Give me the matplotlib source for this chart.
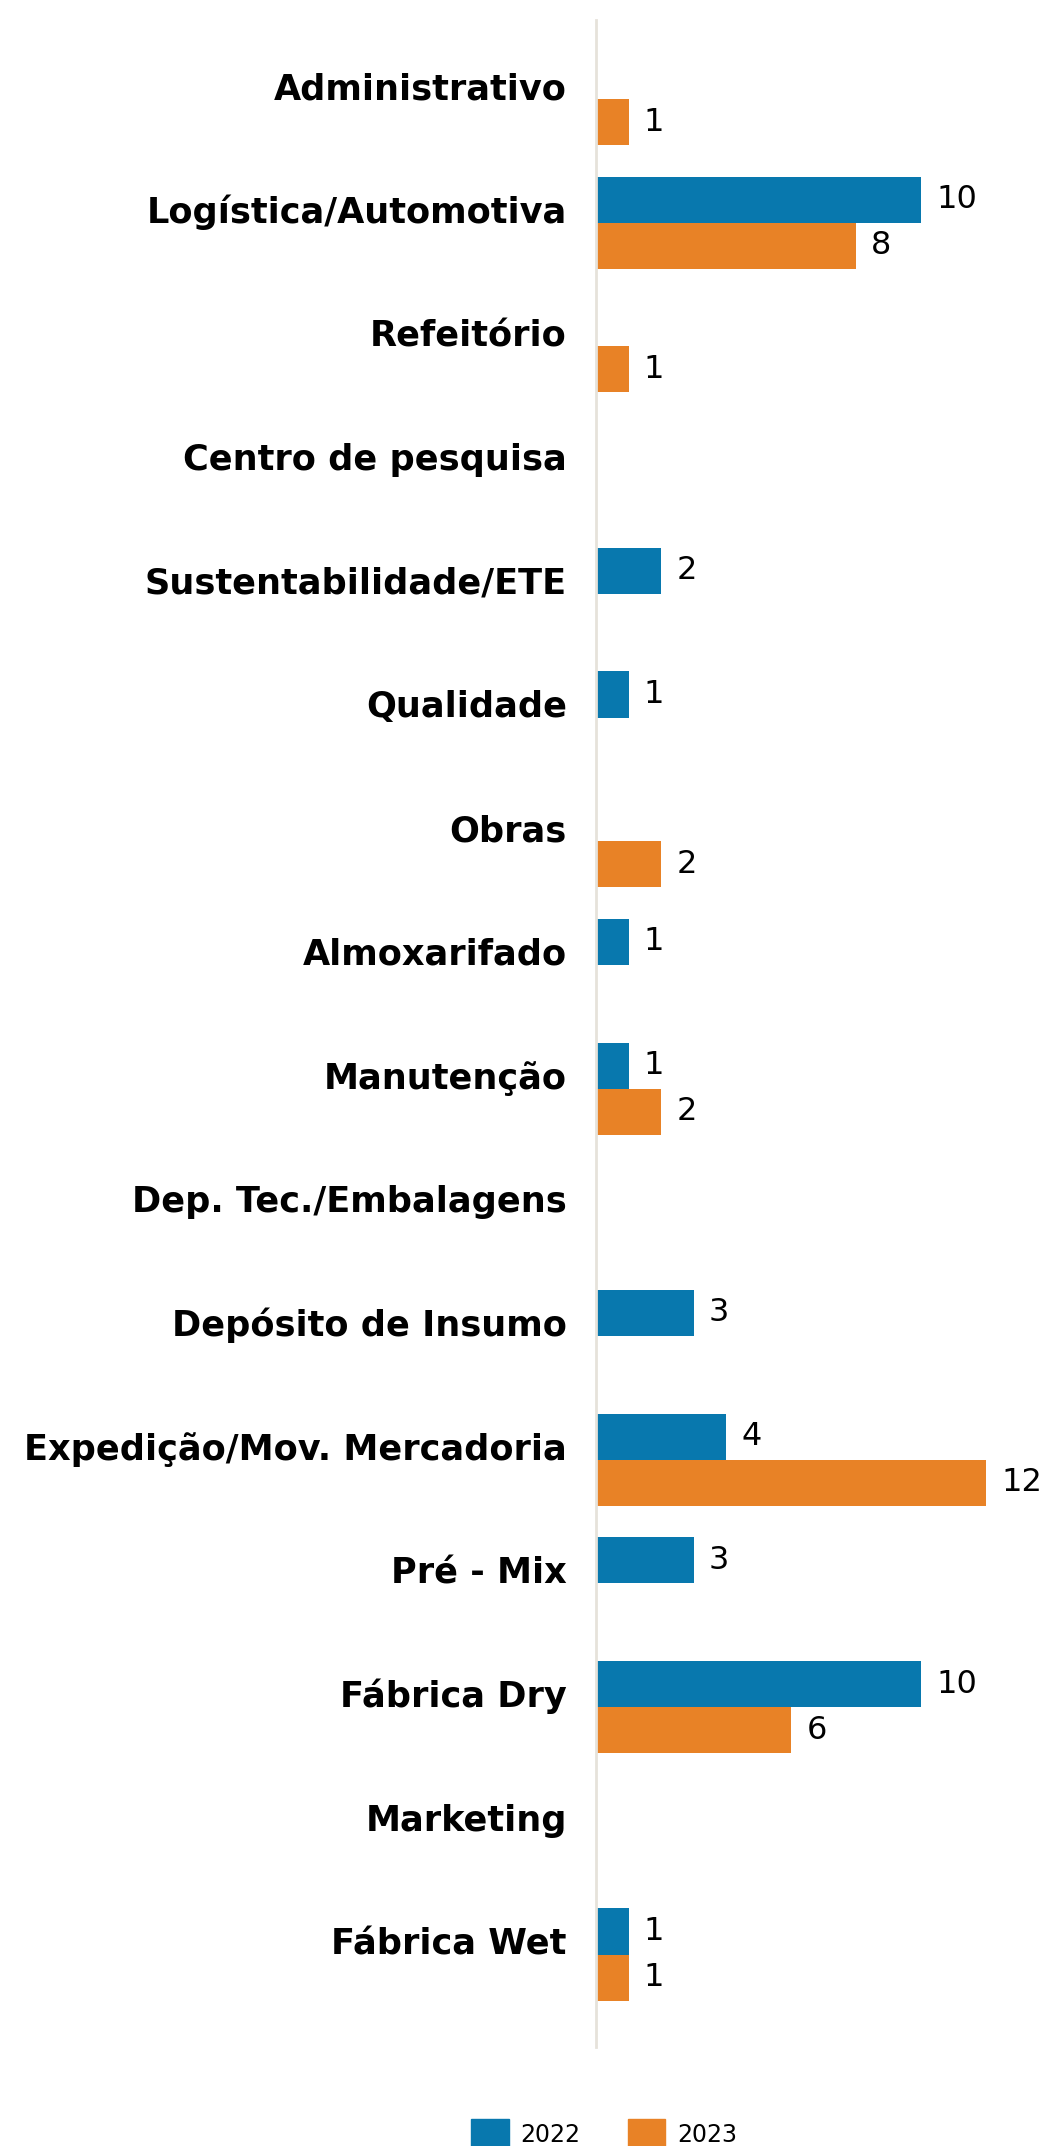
import numpy as np
import matplotlib
matplotlib.use("Agg")
import matplotlib.pyplot as plt
from matplotlib.patches import Patch

categories = ["Administrativo", "Logística/Automotiva", "Refeitório", "Centro de pesquisa",
              "Sustentabilidade/ETE", "Qualidade", "Obras", "Almoxarifado", "Manutenção",
              "Dep. Tec./Embalagens", "Depósito de Insumo", "Expedição/Mov. Mercadoria",
              "Pré - Mix", "Fábrica Dry", "Marketing", "Fábrica Wet"]
v2022 = [np.nan, 10, np.nan, np.nan, 2, 1, np.nan, 1, 1, np.nan, 3, 4, 3, 10, np.nan, 1]
v2023 = [1, 8, 1, np.nan, np.nan, np.nan, 2, np.nan, 2, np.nan, np.nan, 12, np.nan, 6, np.nan, 1]
series_labels = ["2022", "2023"]
colors = ["#0878AE", "#E88226"]

W, H = 1040, 2146
dpi = 100
fig = plt.figure(figsize=(W / dpi, H / dpi), dpi=dpi)
left_px, right_px, top_px, bot_px = 596, 1040, 20, 2047
ax = fig.add_axes([left_px / W, 1 - bot_px / H, (right_px - left_px) / W, (bot_px - top_px) / H])

pos = np.arange(len(categories))
bh = 0.372
vals = [np.array(v2022, float), np.array(v2023, float)]
offs = [-bh / 2, bh / 2]
for v, off, c in zip(vals, offs, colors):
    mask = ~np.isnan(v)
    ax.barh(pos[mask] + off, v[mask], height=bh, color=c, linewidth=0)
    for y, val in zip(pos[mask] + off, v[mask]):
        ax.annotate(f"{int(val)}", xy=(val, y), xytext=(11, 0), textcoords="offset points",
                    ha="left", va="center", fontsize=23, color="black",
                    family="DejaVu Sans", fontweight="normal")

ax.set_xlim(0, 444 / 32.5)
ax.set_ylim((bot_px - 99) / 123.7, (top_px - 99) / 123.7)
ax.set_yticks(pos)
ax.set_yticklabels(categories, fontsize=25.3, fontweight="bold", family="DejaVu Sans", color="black")
for lab in ax.get_yticklabels():
    lab.set_va("baseline")
ax.tick_params(axis="y", length=0, pad=21)
ax.set_xticks([])
for s in ["top", "right", "bottom"]:
    ax.spines[s].set_visible(False)
ax.spines["left"].set_color("#E6E2DA")
ax.spines["left"].set_linewidth(2)

handles = [Patch(color=c, label=l) for c, l in zip(colors, series_labels)]
fig.legend(handles=handles, loc="upper center", bbox_to_anchor=(604 / W, 1 - 2098 / H), ncol=2,
           frameon=False, handlelength=1.6, handleheight=1.6,
           handletextpad=0.5, columnspacing=2.0, prop={"family": "DejaVu Sans", "size": 17})

fig.savefig("out.png", dpi=dpi)
